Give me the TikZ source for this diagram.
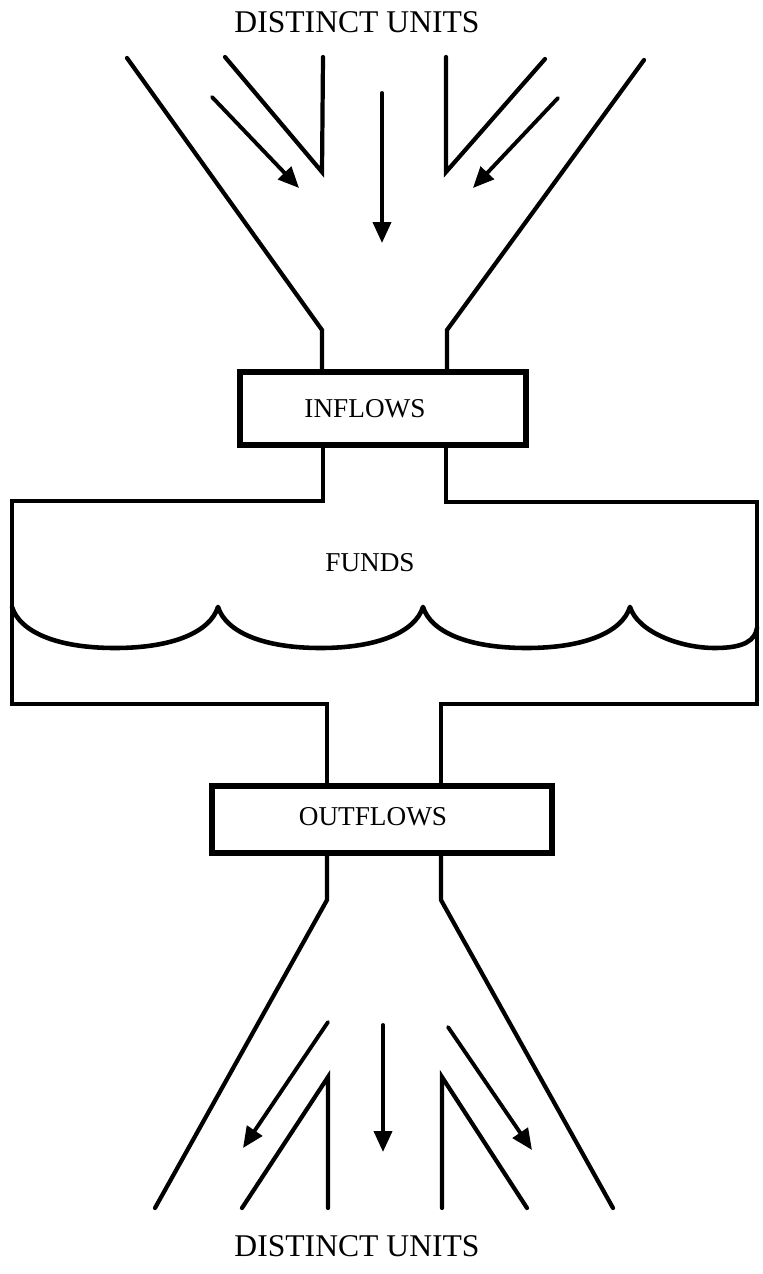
\documentclass[tikz,border=0pt]{standalone}
\usepackage{fontspec}
\setmainfont{Liberation Serif}
\usetikzlibrary{arrows.meta}

\begin{document}
\begin{tikzpicture}[
  x=0.02cm, y=-0.02cm,
  wall/.style={line width=2.4pt, line cap=round, line join=miter},
  flowbox/.style={draw, line width=3.2pt, inner sep=0pt},
  lbl/.style={font=\fontsize{15.5}{18}\selectfont, inner sep=0pt},
  unitlbl/.style={font=\fontsize{18}{21}\selectfont, inner sep=0pt},
  arrow/.style={-{Triangle[length=0.42cm, width=0.36cm]}, line width=2.2pt, line cap=round},
]
  \useasboundingbox (0,0) rectangle (762,1274);

  % Labels at both ends
  \node[unitlbl] (srcunits) at (357,22)   {DISTINCT UNITS};
  \node[unitlbl] (dstunits) at (357,1246) {DISTINCT UNITS};

  % Boxes and their texts
  \node[flowbox, minimum width=5.72cm, minimum height=1.46cm] (inbox)  at (383,408.5) {};
  \node[lbl] (inlbl)  at (365,409) {INFLOWS};
  \node[flowbox, minimum width=6.8cm,  minimum height=1.34cm] (outbox) at (382,819.5) {};
  \node[lbl] (outlbl) at (373,817) {OUTFLOWS};
  \node[lbl] (fundslbl) at (370,563) {FUNDS};

  % Funnel corners
  \coordinate (inl)  at (322,330);
  \coordinate (inr)  at (447,330);
  \coordinate (outl) at (327,900);
  \coordinate (outr) at (441,900);

  % Upper funnel
  \draw[wall] (127,58) -- (inl) -- (inl |- inbox.north);
  \draw[wall] (644,60) -- (inr) -- (inr |- inbox.north);
  \draw[wall] (225,57) -- (322,172) -- (323,57);
  \draw[wall] (545,59) -- (446,172) -- (446,57);
  \draw[arrow] (212,97) -- (299,188);
  \draw[arrow] (382,93) -- (382,243);
  \draw[arrow] (558,98) -- (473,188);

  % Funds tank, open where the necks come in
  \draw[wall, line width=2.6pt] (323,0 |- inbox.south) -- (323,501) -- (12,501) -- (12,704)
    -- (327,704) -- (327,0 |- outbox.north);
  \draw[wall, line width=2.6pt] (446,0 |- inbox.south) -- (446,502) -- (757,502) -- (757,704)
    -- (441,704) -- (441,0 |- outbox.north);

  % Scalloped level line
  \draw[wall, line width=2.6pt] \foreach \a/\b in {12/218, 218/423, 423/630} {
      (\a,607) .. controls ({\a+8},632) and ({\a+45},648) .. ({(\a+\b)/2},648)
      .. controls ({\b-45},648) and ({\b-8},632) .. (\b,607)
    }
    (630,607) .. controls (638,632) and (680,648) .. (715,648)
    .. controls (745,648) and (755,640) .. (757,628);

  % Lower funnel
  \draw[wall] (outl |- outbox.south) -- (outl) -- (155,1208);
  \draw[wall] (outr |- outbox.south) -- (outr) -- (613,1208);
  \draw[wall] (242,1208) -- (328,1077) -- (328,1208);
  \draw[wall] (527,1208) -- (442,1077) -- (442,1208);
  \draw[arrow] (328,1022) -- (243,1148);
  \draw[arrow] (383,1025) -- (383,1152);
  \draw[arrow] (448,1027) -- (532,1150);
\end{tikzpicture}
\end{document}
